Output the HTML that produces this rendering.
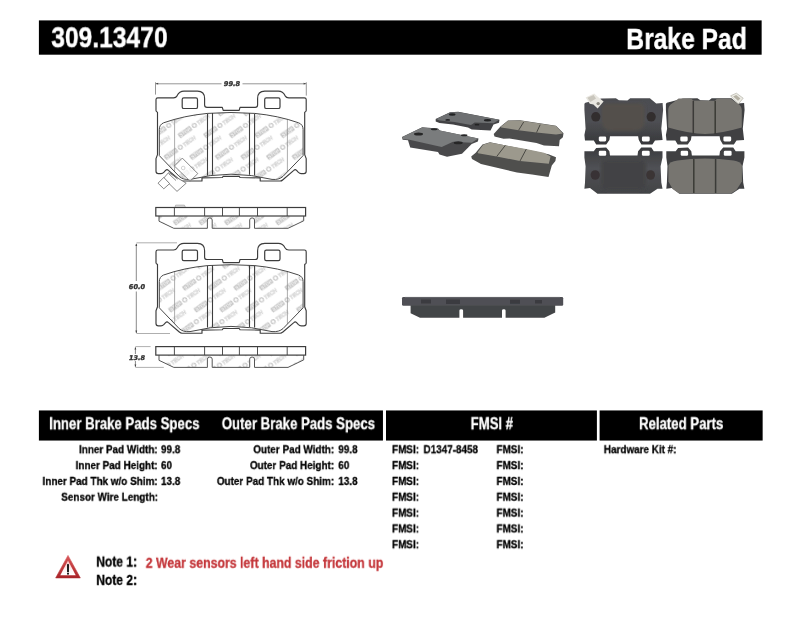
<!DOCTYPE html>
<html lang="en">
<head>
<meta charset="utf-8">
<title>309.13470 Brake Pad</title>
<style>
html,body{margin:0;padding:0;background:#fff;}
body{width:800px;height:619px;position:relative;overflow:hidden;font-family:"Liberation Sans",sans-serif;font-weight:bold;}
.bar{position:absolute;background:#000;}
.t{position:absolute;white-space:pre;line-height:1;display:block;will-change:transform;-webkit-text-stroke:0.3px currentColor;}
svg{position:absolute;left:0;top:0;}
</style>
</head>
<body>
<svg width="800" height="619" viewBox="0 0 800 619"><rect x="38.9" y="20.4" width="722.75" height="34.3" fill="#000"/><rect x="38.9" y="410.45" width="344.05" height="30.1" fill="#000"/><rect x="386" y="410.45" width="210.9" height="30.1" fill="#000"/><rect x="599.6" y="410.45" width="163.05" height="30.1" fill="#000"/></svg>
<span class="t" style="left:0;top:0;font-size:30.2px;color:#fff;transform:translate(51.30px,22.19px) scaleX(0.815);transform-origin:0 0;-webkit-text-stroke:0.4px #fff;">309.13470</span>
<span class="t" style="right:0;top:0;font-size:29.3px;color:#fff;transform:translate(-53.60px,24.00px) scaleX(0.84);transform-origin:100% 0;-webkit-text-stroke:0.4px #fff;">Brake Pad</span>
<span class="t" style="left:0;top:0;font-size:15.9px;color:#fff;transform:translate(49.20px,416.24px) scaleX(0.83);transform-origin:0 0;-webkit-text-stroke:0.3px #fff;">Inner Brake Pads Specs</span>
<span class="t" style="left:0;top:0;font-size:15.9px;color:#fff;transform:translate(221.80px,416.24px) scaleX(0.83);transform-origin:0 0;-webkit-text-stroke:0.3px #fff;">Outer Brake Pads Specs</span>
<span class="t" style="left:0;top:0;font-size:15.9px;color:#fff;transform:translate(470.60px,416.24px) scaleX(0.83);transform-origin:0 0;-webkit-text-stroke:0.3px #fff;">FMSI #</span>
<span class="t" style="left:0;top:0;font-size:15.9px;color:#fff;transform:translate(639.00px,416.24px) scaleX(0.83);transform-origin:0 0;-webkit-text-stroke:0.3px #fff;">Related Parts</span>
<span class="t" style="right:0;top:0;font-size:11.7px;color:#000;transform:translate(-642.10px,443.25px) scaleX(0.848);transform-origin:100% 0;">Inner Pad Width:</span><span class="t" style="left:0;top:0;font-size:11.7px;color:#000;transform:translate(161.00px,443.25px) scaleX(0.848);transform-origin:0 0;">99.8</span>
<span class="t" style="right:0;top:0;font-size:11.7px;color:#000;transform:translate(-642.10px,459.08px) scaleX(0.848);transform-origin:100% 0;">Inner Pad Height:</span><span class="t" style="left:0;top:0;font-size:11.7px;color:#000;transform:translate(161.00px,459.08px) scaleX(0.848);transform-origin:0 0;">60</span>
<span class="t" style="right:0;top:0;font-size:11.7px;color:#000;transform:translate(-642.10px,474.91px) scaleX(0.848);transform-origin:100% 0;">Inner Pad Thk w/o Shim:</span><span class="t" style="left:0;top:0;font-size:11.7px;color:#000;transform:translate(161.00px,474.91px) scaleX(0.848);transform-origin:0 0;">13.8</span>
<span class="t" style="right:0;top:0;font-size:11.7px;color:#000;transform:translate(-642.10px,490.74px) scaleX(0.848);transform-origin:100% 0;">Sensor Wire Length:</span>
<span class="t" style="right:0;top:0;font-size:11.7px;color:#000;transform:translate(-466.20px,443.25px) scaleX(0.848);transform-origin:100% 0;">Outer Pad Width:</span><span class="t" style="left:0;top:0;font-size:11.7px;color:#000;transform:translate(338.30px,443.25px) scaleX(0.848);transform-origin:0 0;">99.8</span>
<span class="t" style="right:0;top:0;font-size:11.7px;color:#000;transform:translate(-466.20px,459.08px) scaleX(0.848);transform-origin:100% 0;">Outer Pad Height:</span><span class="t" style="left:0;top:0;font-size:11.7px;color:#000;transform:translate(338.30px,459.08px) scaleX(0.848);transform-origin:0 0;">60</span>
<span class="t" style="right:0;top:0;font-size:11.7px;color:#000;transform:translate(-466.20px,474.91px) scaleX(0.848);transform-origin:100% 0;">Outer Pad Thk w/o Shim:</span><span class="t" style="left:0;top:0;font-size:11.7px;color:#000;transform:translate(338.30px,474.91px) scaleX(0.848);transform-origin:0 0;">13.8</span>
<span class="t" style="left:0;top:0;font-size:11.7px;color:#000;transform:translate(392.00px,443.25px) scaleX(0.848);transform-origin:0 0;">FMSI:</span><span class="t" style="left:0;top:0;font-size:11.7px;color:#000;transform:translate(423.50px,443.25px) scaleX(0.848);transform-origin:0 0;">D1347-8458</span><span class="t" style="left:0;top:0;font-size:11.7px;color:#000;transform:translate(496.50px,443.25px) scaleX(0.848);transform-origin:0 0;">FMSI:</span>
<span class="t" style="left:0;top:0;font-size:11.7px;color:#000;transform:translate(392.00px,459.08px) scaleX(0.848);transform-origin:0 0;">FMSI:</span><span class="t" style="left:0;top:0;font-size:11.7px;color:#000;transform:translate(496.50px,459.08px) scaleX(0.848);transform-origin:0 0;">FMSI:</span>
<span class="t" style="left:0;top:0;font-size:11.7px;color:#000;transform:translate(392.00px,474.91px) scaleX(0.848);transform-origin:0 0;">FMSI:</span><span class="t" style="left:0;top:0;font-size:11.7px;color:#000;transform:translate(496.50px,474.91px) scaleX(0.848);transform-origin:0 0;">FMSI:</span>
<span class="t" style="left:0;top:0;font-size:11.7px;color:#000;transform:translate(392.00px,490.74px) scaleX(0.848);transform-origin:0 0;">FMSI:</span><span class="t" style="left:0;top:0;font-size:11.7px;color:#000;transform:translate(496.50px,490.74px) scaleX(0.848);transform-origin:0 0;">FMSI:</span>
<span class="t" style="left:0;top:0;font-size:11.7px;color:#000;transform:translate(392.00px,506.57px) scaleX(0.848);transform-origin:0 0;">FMSI:</span><span class="t" style="left:0;top:0;font-size:11.7px;color:#000;transform:translate(496.50px,506.57px) scaleX(0.848);transform-origin:0 0;">FMSI:</span>
<span class="t" style="left:0;top:0;font-size:11.7px;color:#000;transform:translate(392.00px,522.40px) scaleX(0.848);transform-origin:0 0;">FMSI:</span><span class="t" style="left:0;top:0;font-size:11.7px;color:#000;transform:translate(496.50px,522.40px) scaleX(0.848);transform-origin:0 0;">FMSI:</span>
<span class="t" style="left:0;top:0;font-size:11.7px;color:#000;transform:translate(392.00px,538.23px) scaleX(0.848);transform-origin:0 0;">FMSI:</span><span class="t" style="left:0;top:0;font-size:11.7px;color:#000;transform:translate(496.50px,538.23px) scaleX(0.848);transform-origin:0 0;">FMSI:</span>
<span class="t" style="left:0;top:0;font-size:11.7px;color:#000;transform:translate(603.80px,443.25px) scaleX(0.848);transform-origin:0 0;">Hardware Kit #:</span>
<span class="t" style="left:0;top:0;font-size:14.3px;color:#000;transform:translate(96.30px,554.60px) scaleX(0.84);transform-origin:0 0;">Note 1:</span>
<span class="t" style="left:0;top:0;font-size:14.3px;color:#000;transform:translate(96.30px,572.90px) scaleX(0.84);transform-origin:0 0;">Note 2:</span>
<span class="t" style="left:0;top:0;font-size:14.4px;color:#c4363a;transform:translate(145.70px,555.81px) scaleX(0.857);transform-origin:0 0;">2 Wear sensors left hand side friction up</span>
<svg width="800" height="619" viewBox="0 0 800 619">
<defs>
<filter id="soft" x="-5%" y="-5%" width="110%" height="110%"><feGaussianBlur stdDeviation="0.45"/></filter>
<filter id="soft2" x="-5%" y="-5%" width="110%" height="110%"><feGaussianBlur stdDeviation="0.7"/></filter>
<filter id="lsoft" x="-5%" y="-5%" width="110%" height="110%"><feGaussianBlur stdDeviation="0.3"/></filter>
<filter id="blob" x="-20%" y="-20%" width="140%" height="140%"><feGaussianBlur stdDeviation="1.6"/></filter>
<pattern id="wm" width="25.6" height="21.8" patternUnits="userSpaceOnUse" patternTransform="matrix(1 0 0.5321 1 166.40 121.10)"><g font-family="Liberation Sans, sans-serif" font-weight="bold" font-style="italic"><g transform="translate(-12.8 -10.9) matrix(1 0 -0.5321 1 0 0) rotate(-35)"><rect x="-7.4" y="-2.5" width="14.8" height="5" rx="0.8" fill="#c6c6c6"/><text x="0" y="1.6" font-size="4.5" text-anchor="middle" fill="#fafafa" textLength="12.6" lengthAdjust="spacingAndGlyphs">STOP</text><circle cx="11.4" cy="0" r="2" fill="none" stroke="#c2c2c2" stroke-width="1.1"/><text x="14.8" y="2" font-size="5.6" fill="#f2f2f2" stroke="#cfcfcf" stroke-width="0.45" textLength="14.5" lengthAdjust="spacingAndGlyphs">TECH</text></g><g transform="translate(-12.8 10.9) matrix(1 0 -0.5321 1 0 0) rotate(-35)"><rect x="-7.4" y="-2.5" width="14.8" height="5" rx="0.8" fill="#c6c6c6"/><text x="0" y="1.6" font-size="4.5" text-anchor="middle" fill="#fafafa" textLength="12.6" lengthAdjust="spacingAndGlyphs">STOP</text><circle cx="11.4" cy="0" r="2" fill="none" stroke="#c2c2c2" stroke-width="1.1"/><text x="14.8" y="2" font-size="5.6" fill="#f2f2f2" stroke="#cfcfcf" stroke-width="0.45" textLength="14.5" lengthAdjust="spacingAndGlyphs">TECH</text></g><g transform="translate(-12.8 32.7) matrix(1 0 -0.5321 1 0 0) rotate(-35)"><rect x="-7.4" y="-2.5" width="14.8" height="5" rx="0.8" fill="#c6c6c6"/><text x="0" y="1.6" font-size="4.5" text-anchor="middle" fill="#fafafa" textLength="12.6" lengthAdjust="spacingAndGlyphs">STOP</text><circle cx="11.4" cy="0" r="2" fill="none" stroke="#c2c2c2" stroke-width="1.1"/><text x="14.8" y="2" font-size="5.6" fill="#f2f2f2" stroke="#cfcfcf" stroke-width="0.45" textLength="14.5" lengthAdjust="spacingAndGlyphs">TECH</text></g><g transform="translate(12.8 -10.9) matrix(1 0 -0.5321 1 0 0) rotate(-35)"><rect x="-7.4" y="-2.5" width="14.8" height="5" rx="0.8" fill="#c6c6c6"/><text x="0" y="1.6" font-size="4.5" text-anchor="middle" fill="#fafafa" textLength="12.6" lengthAdjust="spacingAndGlyphs">STOP</text><circle cx="11.4" cy="0" r="2" fill="none" stroke="#c2c2c2" stroke-width="1.1"/><text x="14.8" y="2" font-size="5.6" fill="#f2f2f2" stroke="#cfcfcf" stroke-width="0.45" textLength="14.5" lengthAdjust="spacingAndGlyphs">TECH</text></g><g transform="translate(12.8 10.9) matrix(1 0 -0.5321 1 0 0) rotate(-35)"><rect x="-7.4" y="-2.5" width="14.8" height="5" rx="0.8" fill="#c6c6c6"/><text x="0" y="1.6" font-size="4.5" text-anchor="middle" fill="#fafafa" textLength="12.6" lengthAdjust="spacingAndGlyphs">STOP</text><circle cx="11.4" cy="0" r="2" fill="none" stroke="#c2c2c2" stroke-width="1.1"/><text x="14.8" y="2" font-size="5.6" fill="#f2f2f2" stroke="#cfcfcf" stroke-width="0.45" textLength="14.5" lengthAdjust="spacingAndGlyphs">TECH</text></g><g transform="translate(12.8 32.7) matrix(1 0 -0.5321 1 0 0) rotate(-35)"><rect x="-7.4" y="-2.5" width="14.8" height="5" rx="0.8" fill="#c6c6c6"/><text x="0" y="1.6" font-size="4.5" text-anchor="middle" fill="#fafafa" textLength="12.6" lengthAdjust="spacingAndGlyphs">STOP</text><circle cx="11.4" cy="0" r="2" fill="none" stroke="#c2c2c2" stroke-width="1.1"/><text x="14.8" y="2" font-size="5.6" fill="#f2f2f2" stroke="#cfcfcf" stroke-width="0.45" textLength="14.5" lengthAdjust="spacingAndGlyphs">TECH</text></g><g transform="translate(38.4 -10.9) matrix(1 0 -0.5321 1 0 0) rotate(-35)"><rect x="-7.4" y="-2.5" width="14.8" height="5" rx="0.8" fill="#c6c6c6"/><text x="0" y="1.6" font-size="4.5" text-anchor="middle" fill="#fafafa" textLength="12.6" lengthAdjust="spacingAndGlyphs">STOP</text><circle cx="11.4" cy="0" r="2" fill="none" stroke="#c2c2c2" stroke-width="1.1"/><text x="14.8" y="2" font-size="5.6" fill="#f2f2f2" stroke="#cfcfcf" stroke-width="0.45" textLength="14.5" lengthAdjust="spacingAndGlyphs">TECH</text></g><g transform="translate(38.4 10.9) matrix(1 0 -0.5321 1 0 0) rotate(-35)"><rect x="-7.4" y="-2.5" width="14.8" height="5" rx="0.8" fill="#c6c6c6"/><text x="0" y="1.6" font-size="4.5" text-anchor="middle" fill="#fafafa" textLength="12.6" lengthAdjust="spacingAndGlyphs">STOP</text><circle cx="11.4" cy="0" r="2" fill="none" stroke="#c2c2c2" stroke-width="1.1"/><text x="14.8" y="2" font-size="5.6" fill="#f2f2f2" stroke="#cfcfcf" stroke-width="0.45" textLength="14.5" lengthAdjust="spacingAndGlyphs">TECH</text></g><g transform="translate(38.4 32.7) matrix(1 0 -0.5321 1 0 0) rotate(-35)"><rect x="-7.4" y="-2.5" width="14.8" height="5" rx="0.8" fill="#c6c6c6"/><text x="0" y="1.6" font-size="4.5" text-anchor="middle" fill="#fafafa" textLength="12.6" lengthAdjust="spacingAndGlyphs">STOP</text><circle cx="11.4" cy="0" r="2" fill="none" stroke="#c2c2c2" stroke-width="1.1"/><text x="14.8" y="2" font-size="5.6" fill="#f2f2f2" stroke="#cfcfcf" stroke-width="0.45" textLength="14.5" lengthAdjust="spacingAndGlyphs">TECH</text></g></g></pattern>
</defs>
<g id="drawings" filter="url(#lsoft)">
<path d="M155.5,82.3 V94.6 M306.3,82.3 V95.6 M156,83.8 H221.5 M242.5,83.8 H306" stroke="#909090" stroke-width="0.95" fill="none"/>
<path d="M155.6,83.7 l2.6,-0.9 v1.8 Z M306.2,83.7 l-2.6,-0.9 v1.8 Z" fill="#444"/>
<text x="232" y="86.2" text-anchor="middle" font-family="DejaVu Sans, sans-serif" font-weight="bold" font-style="italic" font-size="6.6" fill="#333" stroke="#333" stroke-width="0.35">99.8</text>
<path d="M159.3,129.5 Q159.3,124.6 163.6,122.8 Q184,115.6 207.5,113.4 Q231,111.6 254.6,113.4
 Q278,115.6 298.6,122.8 Q303.1,124.6 303.1,129.5 L303.1,155.6 L283,176.4 Q279,180 272,179.4
 Q252,174.4 231,174.2 Q210,174.4 190,179.4 Q183,180 179.2,176.4 L159.3,155.6 Z" fill="url(#wm)" stroke="none"/><path d="M174.6,119.6 L174.6,171.6 M287.4,119.6 L287.4,171.6" stroke="#8a8a8a" stroke-width="0.7" fill="none"/><path d="M159.3,129.5 Q159.3,124.6 163.6,122.8 Q184,115.6 207.5,113.4 Q231,111.6 254.6,113.4
 Q278,115.6 298.6,122.8 Q303.1,124.6 303.1,129.5 L303.1,155.6 L283,176.4 Q279,180 272,179.4
 Q252,174.4 231,174.2 Q210,174.4 190,179.4 Q183,180 179.2,176.4 L159.3,155.6 Z" fill="none" stroke="#484848" stroke-width="1" stroke-linejoin="round"/><path d="M207.5,113.4 L207.5,175.4 M212.5,113 L212.5,174.8 M249.5,113 L249.5,174.8 M254.6,113.4 L254.6,175.4" stroke="#3c3c3c" stroke-width="1.1" fill="none"/><path d="M156,99.6 Q156,97.8 157.8,97.8 L173.5,97.8 Q176,97.8 177.2,95.6
 Q179.3,91.1 184,91.1 L197.5,91.1 Q204.6,91.1 204.6,98.5 L204.6,105 Q204.6,107.3 207,107.3
 L222.3,107.3 L223.2,110.4 L239.2,110.4 L240,107.3 L255.2,107.3 Q257.6,107.3 257.6,105
 L257.6,98.5 Q257.6,91.1 264.8,91.1 L278.2,91.1 Q283,91.1 285,95.6 Q286.2,97.8 288.8,97.8
 L304.4,97.8 Q306.2,97.8 306.2,99.6 L306.2,110.6 Q306.2,111.8 304.7,112.2 L304.7,154.6
 L306.2,158.6 L306.2,171.2 Q306.2,173.6 303.8,173.6 L301.2,173.6 Q299.6,173.6 298.2,172.2
 L296.6,170.4 Q295.2,169 293.8,170.4 L282.6,180 Q281.6,181 280.2,181 L260.2,181 L260.2,177.9
 L240,177.5 L239.2,176.3 L223.2,176.3 L222.3,177.5 L202,177.9 L202,181 L182,181
 Q180.6,181 179.6,180 L168.4,170.4 Q167,169 165.6,170.4 L164,172.2 Q162.6,173.6 161,173.6
 L158.4,173.6 Q156,173.6 156,171.2 L156,158.6 L157.5,154.6 L157.5,112.2 Q156,111.8 156,110.6 Z" fill="none" stroke="#3c3c3c" stroke-width="1.15" stroke-linejoin="round"/><rect x="182.2" y="97.9" width="15.3" height="10.6" rx="1.6" fill="none" stroke="#3c3c3c" stroke-width="1.2"/><rect x="264.7" y="97.9" width="15.3" height="10.6" rx="1.6" fill="none" stroke="#3c3c3c" stroke-width="1.2"/><g fill="#fff" stroke="#6a6a6a" stroke-width="0.8" stroke-linejoin="round"><path d="M182.3,158.1 L197.8,173.6 L190,181.2 L174.4,166 Z" fill="#fff" fill-opacity="0.75"/><circle cx="183.2" cy="168" r="1.8" fill="none" stroke="#b5b5b5" stroke-width="0.6"/><path d="M168.6,172.6 L186.2,183.2 L177,191.4 L163.6,178.2 Z"/><path d="M163.8,177.4 L169.6,183.6 L163.8,188.8 L158,183.2 Z"/><path d="M168.5,173.5 L176,180.5 M170,172.5 L177.5,179.2" fill="none" stroke="#555" stroke-width="0.7"/></g>
<path d="M159,216.0 L159,221.2 L173.8,228.3 L207.4,228.3 L207.4,220.0 Q207.4,217.9 209.8,217.9 Q212.2,217.9 212.2,220.0 L212.2,228.3 L249.7,228.3 L249.7,220.0 Q249.7,217.9 252.1,217.9 Q254.5,217.9 254.5,220.0 L254.5,228.3 L288,228.3 L303.7,220.8 L303.7,216.0 Z" fill="url(#wm)" stroke="none"/><path d="M159,216.0 L159,221.2 L173.8,228.3 L207.4,228.3 L207.4,220.0 Q207.4,217.9 209.8,217.9 Q212.2,217.9 212.2,220.0 L212.2,228.3 L249.7,228.3 L249.7,220.0 Q249.7,217.9 252.1,217.9 Q254.5,217.9 254.5,220.0 L254.5,228.3 L288,228.3 L303.7,220.8 L303.7,216.0" fill="none" stroke="#555" stroke-width="1" stroke-linejoin="round"/><path d="M175,207.5 L175.6,205.1 L184.4,205.1 L185.6,207.5" fill="#ddd" stroke="#999" stroke-width="0.6"/><rect x="155.8" y="207.5" width="149.8" height="8.5" fill="#fff" stroke="#3c3c3c" stroke-width="1.2"/><path d="M174.4,207.5 V216.0 M204.6,207.5 V216.0 M222.5,207.5 V216.0 M239.4,207.5 V216.0 M257.5,207.5 V216.0 M287.2,207.5 V216.0" stroke="#3c3c3c" stroke-width="0.9" fill="none"/>
<path d="M136.5,242.8 H177 M136.5,333.5 H170" stroke="#9a9a9a" stroke-width="0.8" fill="none"/>
<path d="M136.3,244 V281 M136.3,291.5 V333" stroke="#555" stroke-width="0.7" fill="none"/>
<path d="M136.3,243.2 l-0.9,2.8 h1.8 Z M136.3,333.2 l-0.9,-2.8 h1.8 Z" fill="#444"/>
<text x="137" y="288.8" text-anchor="middle" font-family="DejaVu Sans, sans-serif" font-weight="bold" font-style="italic" font-size="6.6" fill="#333" stroke="#333" stroke-width="0.35">60.0</text>
<path d="M159.3,281.7 Q159.3,276.79999999999995 163.6,275.0 Q184,267.79999999999995 207.5,265.6 Q231,263.79999999999995 254.6,265.6
 Q278,267.79999999999995 298.6,275.0 Q303.1,276.79999999999995 303.1,281.7 L303.1,307.79999999999995 L283,328.6 Q279,332.2 272,331.6
 Q252,326.6 231,326.4 Q210,326.6 190,331.6 Q183,332.2 179.2,328.6 L159.3,307.79999999999995 Z" fill="url(#wm)" stroke="none"/><path d="M174.6,271.79999999999995 L174.6,323.79999999999995 M287.4,271.79999999999995 L287.4,323.79999999999995" stroke="#8a8a8a" stroke-width="0.7" fill="none"/><path d="M159.3,281.7 Q159.3,276.79999999999995 163.6,275.0 Q184,267.79999999999995 207.5,265.6 Q231,263.79999999999995 254.6,265.6
 Q278,267.79999999999995 298.6,275.0 Q303.1,276.79999999999995 303.1,281.7 L303.1,307.79999999999995 L283,328.6 Q279,332.2 272,331.6
 Q252,326.6 231,326.4 Q210,326.6 190,331.6 Q183,332.2 179.2,328.6 L159.3,307.79999999999995 Z" fill="none" stroke="#484848" stroke-width="1" stroke-linejoin="round"/><path d="M207.5,265.6 L207.5,327.6 M212.5,265.2 L212.5,327.0 M249.5,265.2 L249.5,327.0 M254.6,265.6 L254.6,327.6" stroke="#3c3c3c" stroke-width="1.1" fill="none"/><path d="M156,251.79999999999998 Q156,250.0 157.8,250.0 L173.5,250.0 Q176,250.0 177.2,247.79999999999998
 Q179.3,243.29999999999998 184,243.29999999999998 L197.5,243.29999999999998 Q204.6,243.29999999999998 204.6,250.7 L204.6,257.2 Q204.6,259.5 207,259.5
 L222.3,259.5 L223.2,262.6 L239.2,262.6 L240,259.5 L255.2,259.5 Q257.6,259.5 257.6,257.2
 L257.6,250.7 Q257.6,243.29999999999998 264.8,243.29999999999998 L278.2,243.29999999999998 Q283,243.29999999999998 285,247.79999999999998 Q286.2,250.0 288.8,250.0
 L304.4,250.0 Q306.2,250.0 306.2,251.79999999999998 L306.2,262.79999999999995 Q306.2,264.0 304.7,264.4 L304.7,306.79999999999995
 L306.2,310.79999999999995 L306.2,323.4 Q306.2,325.79999999999995 303.8,325.79999999999995 L301.2,325.79999999999995 Q299.6,325.79999999999995 298.2,324.4
 L296.6,322.6 Q295.2,321.2 293.8,322.6 L282.6,332.2 Q281.6,333.2 280.2,333.2 L260.2,333.2 L260.2,330.1
 L240,329.7 L239.2,328.5 L223.2,328.5 L222.3,329.7 L202,330.1 L202,333.2 L182,333.2
 Q180.6,333.2 179.6,332.2 L168.4,322.6 Q167,321.2 165.6,322.6 L164,324.4 Q162.6,325.79999999999995 161,325.79999999999995
 L158.4,325.79999999999995 Q156,325.79999999999995 156,323.4 L156,310.79999999999995 L157.5,306.79999999999995 L157.5,264.4 Q156,264.0 156,262.79999999999995 Z" fill="none" stroke="#3c3c3c" stroke-width="1.15" stroke-linejoin="round"/><rect x="182.2" y="250.1" width="15.3" height="10.6" rx="1.6" fill="none" stroke="#3c3c3c" stroke-width="1.2"/><rect x="264.7" y="250.1" width="15.3" height="10.6" rx="1.6" fill="none" stroke="#3c3c3c" stroke-width="1.2"/>
<path d="M135.4,346.6 H150.6 M135.4,367.4 H163.8" stroke="#9a9a9a" stroke-width="0.8" fill="none"/>
<path d="M135.4,347.4 V354 M135.4,361 V366.8" stroke="#555" stroke-width="0.7" fill="none"/>
<path d="M135.4,347 l-0.9,2.6 h1.8 Z M135.4,367 l-0.9,-2.6 h1.8 Z" fill="#444"/>
<text x="137" y="359.7" text-anchor="middle" font-family="DejaVu Sans, sans-serif" font-weight="bold" font-style="italic" font-size="6.5" fill="#333" stroke="#333" stroke-width="0.35">13.8</text>
<path d="M159,355.1 L159,360.3 L173.8,367.40000000000003 L207.4,367.40000000000003 L207.4,359.1 Q207.4,357.0 209.8,357.0 Q212.2,357.0 212.2,359.1 L212.2,367.40000000000003 L249.7,367.40000000000003 L249.7,359.1 Q249.7,357.0 252.1,357.0 Q254.5,357.0 254.5,359.1 L254.5,367.40000000000003 L288,367.40000000000003 L303.7,359.90000000000003 L303.7,355.1 Z" fill="url(#wm)" stroke="none"/><path d="M159,355.1 L159,360.3 L173.8,367.40000000000003 L207.4,367.40000000000003 L207.4,359.1 Q207.4,357.0 209.8,357.0 Q212.2,357.0 212.2,359.1 L212.2,367.40000000000003 L249.7,367.40000000000003 L249.7,359.1 Q249.7,357.0 252.1,357.0 Q254.5,357.0 254.5,359.1 L254.5,367.40000000000003 L288,367.40000000000003 L303.7,359.90000000000003 L303.7,355.1" fill="none" stroke="#555" stroke-width="1" stroke-linejoin="round"/><rect x="155.8" y="346.6" width="149.8" height="8.5" fill="#fff" stroke="#3c3c3c" stroke-width="1.2"/><path d="M174.4,346.6 V355.1 M204.6,346.6 V355.1 M222.5,346.6 V355.1 M239.4,346.6 V355.1 M257.5,346.6 V355.1 M287.2,346.6 V355.1" stroke="#3c3c3c" stroke-width="0.9" fill="none"/>
</g>
<g id="photo-iso" filter="url(#soft2)">
<polygon points="435.7,119.0 450.0,112.2 458.2,111.8 499.5,119.7 499.0,122.7 493.5,124.5 490.5,130.4 471.7,129.6 468.0,127.4 453.0,124.4 439.5,122.9 435.7,121.4" fill="#434345" />
<polygon points="436.2,119.0 450.0,112.4 458.2,111.9 499.2,119.7 493.5,123.2 474.7,122.6 471.0,125.0 454.5,122.0 439.5,120.5" fill="#6e7072" />
<ellipse cx="452.2" cy="114.5" rx="3.3" ry="1.2" fill="#222224" />
<ellipse cx="447.7" cy="119.9" rx="2.4" ry="0.9" fill="#222224" />
<ellipse cx="487.5" cy="120.2" rx="3.6" ry="1.2" fill="#222224" />
<ellipse cx="477.0" cy="124.7" rx="2.5" ry="0.9" fill="#222224" />
<polygon points="402.0,137.0 422.2,127.2 438.0,128.6 439.8,130.4 478.5,138.5 477.9,141.5 471.7,143.9 462.0,153.8 447.0,156.8 439.5,154.4 438.0,152.1 410.2,147.6 408.0,140.3 402.6,139.8" fill="#4a4a4c" />
<polygon points="402.4,137.0 422.2,127.4 438.0,128.9 439.8,130.5 478.2,138.6 471.7,142.7 453.0,141.8 441.7,146.9 409.5,139.7 402.9,139.1" fill="#7a7c7d" />
<ellipse cx="418.5" cy="134.0" rx="4.5" ry="1.5" fill="#252527" />
<ellipse cx="434.2" cy="129.2" rx="3.3" ry="1.0" fill="#252527" />
<ellipse cx="464.2" cy="135.2" rx="3.3" ry="1.0" fill="#252527" />
<ellipse cx="458.2" cy="142.7" rx="4.5" ry="1.5" fill="#252527" />
<polygon points="493.7,134.0 500.5,126.5 508.0,120.5 520.0,120.2 556.0,125.7 563.5,133.2 562.9,137.3 559.7,140.0 559.0,146.3 544.0,145.4 536.5,143.1 509.5,138.6 503.5,138.8 494.5,136.4" fill="#4e4e4e" />
<polygon points="500.8,126.8 508.0,120.8 520.0,120.5 556.0,126.0 562.9,133.4 556.0,134.6 536.5,132.5 518.5,130.2 501.2,127.4" fill="#98958a" />
<path d="M523.7,122.0 L518.5,130.4 M540.2,124.7 L536.5,132.6" stroke="#4a4944" stroke-width="1" fill="none"/>
<polygon points="471.2,156.5 475.7,152.7 482.5,144.5 490.0,142.2 548.5,154.2 556.0,157.2 555.4,161.1 551.8,165.5 548.5,176.9 532.0,174.6 517.0,172.4 481.0,164.1 472.0,159.0" fill="#4f4f4e" />
<polygon points="477.7,152.3 483.2,144.8 490.0,142.5 505.0,145.2 526.0,149.0 544.0,152.7 550.6,156.5 548.8,163.7 520.0,161.0 496.7,156.5 478.0,153.2" fill="#9c998d" />
<path d="M505.3,145.4 L496.7,156.5 M526.3,149.1 L520.0,161.0" stroke="#4a4944" stroke-width="1" fill="none"/>
</g>
<linearGradient id="pgE" x1="0" y1="0" x2="0" y2="1"><stop offset="0" stop-color="#4c4d51"/><stop offset="0.5" stop-color="#4e4f53"/><stop offset="1" stop-color="#36373a"/></linearGradient>
<linearGradient id="pgG" x1="0" y1="0" x2="0" y2="1"><stop offset="0" stop-color="#3a3b3e"/><stop offset="0.45" stop-color="#505155"/><stop offset="1" stop-color="#424346"/></linearGradient>
<g id="photo-flat" filter="url(#soft)">
<polygon points="584.4,103.8 585.4,102.8 601.4,98.4 615.9,98.2 618.9,100.2 627.4,100.6 630.2,98.2 649.9,98.2 656.2,103.6 662.6,103.1 663.1,110.0 661.3,128.8 662.6,140.0 655.0,140.6 652.4,144.5 641.4,144.5 638.8,140.0 638.1,136.3 610.0,136.3 609.4,140.0 606.2,144.5 596.2,144.5 593.8,140.6 585.0,140.6 584.4,135.0 585.6,128.8 584.4,110.0" fill="url(#pgE)"/>
<path d="M602,107 Q602,103.5 607,103.5 L639,103.5 Q644.5,103.5 644.5,107 L644.5,122 Q644.5,131 634,131 L612,131 Q602,131 602,122 Z" fill="#524f4b" filter="url(#blob)"/>
<ellipse cx="595.8" cy="116.8" rx="4.6" ry="4.8" fill="#322d2f"/>
<ellipse cx="651.2" cy="116.8" rx="4.6" ry="4.8" fill="#322d2f"/>
<rect x="598.8" y="136.4" width="7.4" height="5" rx="1.3" fill="#fff"/><rect x="641.9" y="136.4" width="7.8" height="5" rx="1.3" fill="#fff"/>
<path d="M585.6,97.6 L594.2,93.6 L597.4,96.4 L603.6,101.6 L597.6,108.4 L593.4,104.4 L589.8,103.8 Z" fill="#e9e7e1"/>
<path d="M587.4,97.8 L593.6,95 L596,98.6 L590.4,102 Z" fill="#c9c6bd"/>
<circle cx="598.2" cy="103.6" r="1.7" fill="#8a877f"/>
<polygon points="665.9,103.8 666.9,102.8 682.9,98.4 697.4,98.2 700.4,100.2 708.9,100.6 711.7,98.2 731.4,98.2 737.7,103.6 744.1,103.1 744.6,110.0 742.8,128.8 744.1,140.0 736.5,140.6 733.9,144.5 722.9,144.5 720.3,140.0 719.6,136.3 691.5,136.3 690.9,140.0 687.7,144.5 677.7,144.5 675.3,140.6 666.5,140.6 665.9,135.0 667.1,128.8 665.9,110.0" fill="#3f4043"/>
<path d="M668.2,110 Q668.6,105 672,103.4 L678.6,98.6 L691,98.6 L693.4,100.6 L714.6,100.8 L717.4,98.6 L730.6,98.6 L737.4,103.4 Q741.4,105 741.8,110 L741.8,127.6 Q720,134 705,134 Q690,134 668.2,127.6 Z" fill="#777570"/>
<path d="M693.3,100.8 V134 M715.2,100.8 V134" stroke="#3b3a37" stroke-width="1.5" fill="none"/>
<rect x="680.3" y="136.4" width="7.4" height="5" rx="1.3" fill="#fff"/><rect x="723.4" y="136.4" width="7.8" height="5" rx="1.3" fill="#fff"/>
<path d="M730.6,95.8 L736.4,93.2 L743.2,98.2 L738.4,104 Z" fill="#ecebe4" stroke="#aaa79c" stroke-width="0.6"/>
<path d="M733.2,96.4 L736.2,95 L740.4,98.4 L738,100.8 Z" fill="#b5b1a4"/>
<polygon points="584.4,151.3 593.8,151.3 596.2,148.1 606.2,147.5 609.4,151.3 610.0,155.6 637.5,155.6 638.1,151.3 641.3,147.5 651.3,147.5 653.8,151.3 662.5,151.3 662.5,157.5 660.6,166.3 661.3,182.5 662.5,188.8 657.5,188.8 650.0,193.8 597.5,193.8 590.0,188.1 584.4,188.8 585.0,182.5 585.6,166.3 584.4,157.5" fill="url(#pgG)"/>
<path d="M601,164 Q601,160 606,160 L640,160 Q646,160 646,164 L646,184 Q646,190 638,190 L608,190 Q601,190 601,184 Z" fill="#434345" filter="url(#blob)"/>
<ellipse cx="595.2" cy="175" rx="4.6" ry="4.8" fill="#383234"/>
<ellipse cx="650.6" cy="175" rx="4.4" ry="4.8" fill="#3a3436"/>
<rect x="598.8" y="150.7" width="7.4" height="5" rx="1.3" fill="#fff"/><rect x="641.9" y="150.7" width="7.8" height="5" rx="1.3" fill="#fff"/>
<polygon points="666.3,151.3 675.7,151.3 678.1,148.1 688.1,147.5 691.3,151.3 691.9,155.6 719.4,155.6 720.0,151.3 723.2,147.5 733.2,147.5 735.7,151.3 744.4,151.3 744.4,157.5 742.5,166.3 743.2,182.5 744.4,188.8 739.4,188.8 731.9,193.8 679.4,193.8 671.9,188.1 666.3,188.8 666.9,182.5 667.5,166.3 666.3,157.5" fill="#3f4043"/>
<path d="M668.4,165.4 Q669.4,161.6 677.5,160.4 Q690,158.6 705,158.6 Q720,158.6 733.6,160.4 Q740.8,161.6 741.9,165.4 L741.9,181.4 L736.4,190 L731.4,193.2 L678.8,193.2 L672.6,189 L668.4,181.4 Z" fill="#777570"/>
<path d="M693.8,159 V193 M715.6,159 V193" stroke="#3b3a37" stroke-width="1.5" fill="none"/>
<rect x="680.7" y="150.7" width="7.4" height="5" rx="1.3" fill="#fff"/><rect x="723.8" y="150.7" width="7.8" height="5" rx="1.3" fill="#fff"/>
</g>
<g id="photo-side" filter="url(#soft)">
<path d="M410.6,305 L410.6,313.2 L420,317.8 L459.4,317.8 L459.4,310.4 Q459.4,309.2 461.2,309.2 Q463.1,309.2 463.1,310.4 L463.1,317.8 L502,317.8 L502,310.4 Q502,309.2 503.8,309.2 Q505.6,309.2 505.6,310.4 L505.6,317.8 L544.4,317.8 L555.2,312.4 L555.2,305 Z" fill="#434447"/>
<path d="M402,298.2 Q402,297 403.4,297 L562,297 Q563.2,297 563.2,298.2 L563.2,304.4 Q563.2,305.7 562,305.7 L403.4,305.7 Q402,305.7 402,304.4 Z" fill="#4f5054"/>
<path d="M421,299.5 h10 v4 h-10 Z M446,299.5 h14 v4.5 h-14 Z M510,299.8 h10 v4 h-10 Z M535,300 h7 v3.6 h-7 Z" fill="#3a3b3f"/>
<path d="M405,297.4 H560" stroke="#6a6b70" stroke-width="0.8" fill="none"/>
</g>
<g id="warn" filter="url(#lsoft)">
<linearGradient id="wg" x1="0" y1="0" x2="0" y2="1"><stop offset="0" stop-color="#d9585a"/><stop offset="0.55" stop-color="#c23a3d"/><stop offset="1" stop-color="#a82429"/></linearGradient>
<linearGradient id="wi" x1="0" y1="0" x2="0" y2="1"><stop offset="0" stop-color="#f6b9b9"/><stop offset="0.6" stop-color="#fdf3f3"/><stop offset="1" stop-color="#ffffff"/></linearGradient>
<path d="M68,555.4 L80.3,577.9 L55.7,577.9 Z" fill="url(#wg)" stroke="url(#wg)" stroke-width="0.6" stroke-linejoin="round"/>
<path d="M68,560.4 L75.7,575.2 L60.3,575.2 Z" fill="url(#wi)"/>
<rect x="67.05" y="563.9" width="1.9" height="8.4" rx="0.5" fill="#151515"/>
<circle cx="68" cy="573.7" r="1.05" fill="#151515"/>
</g>
</svg>
</body>
</html>
